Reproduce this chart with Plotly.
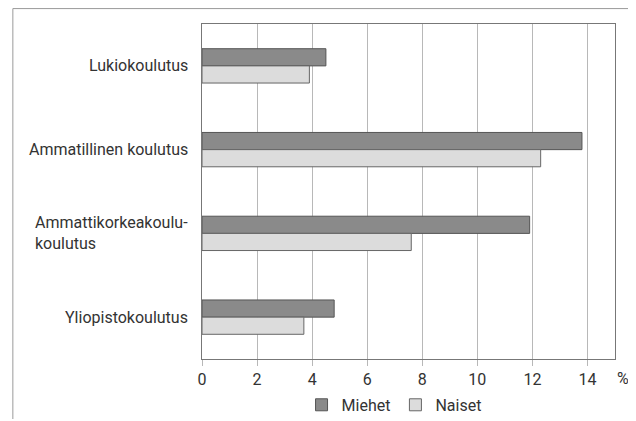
import plotly.graph_objects as go

categories = ["Lukiokoulutus", "Ammatillinen koulutus",
              "Ammattikorkeakoulu-<br>koulutus", "Yliopistokoulutus"]
miehet = [4.5, 13.8, 11.9, 4.8]
naiset = [3.9, 12.3, 7.6, 3.7]
x_ticks = [0, 2, 4, 6, 8, 10, 12, 14]

FONT = "Roboto, sans-serif"
TEXT = "#333333"

fig = go.Figure()
fig.add_trace(go.Bar(
    name="Miehet", y=categories, x=miehet, orientation="h",
    marker=dict(color="#8a8a8a", line=dict(color="#555555", width=1)),
))
fig.add_trace(go.Bar(
    name="Naiset", y=categories, x=naiset, orientation="h",
    marker=dict(color="#dcdcdc", line=dict(color="#666666", width=1)),
))

# category labels as annotations so the wrapped one stays left aligned
for cat in categories:
    fig.add_annotation(
        x=-0.029, xref="paper", y=cat, yref="y", text=cat,
        showarrow=False, xanchor="right", align="left",
        font=dict(family=FONT, size=16, color=TEXT),
    )

fig.add_annotation(
    x=1.019, xref="paper", y=-0.057, yref="paper", text="%",
    showarrow=False, xanchor="center", yanchor="middle",
    font=dict(family=FONT, size=16, color=TEXT),
)

# outer frame (top and left edges only)
fig.add_shape(type="line", xref="paper", yref="paper",
              x0=-0.458, x1=1.1, y0=1.046, y1=1.046,
              line=dict(color="#9a9a9a", width=1))
fig.add_shape(type="line", xref="paper", yref="paper",
              x0=-0.458, x1=-0.458, y0=1.046, y1=-0.3,
              line=dict(color="#9a9a9a", width=1))

fig.update_layout(
    width=626, height=411,
    margin=dict(l=194, r=19, t=16, b=60, autoexpand=False),
    paper_bgcolor="white", plot_bgcolor="white",
    font=dict(family=FONT, color=TEXT, size=16),
    barmode="group", bargap=0.59, bargroupgap=0,
    showlegend=True,
    legend=dict(
        orientation="h", x=0.465, xanchor="center", y=-0.137, yanchor="middle",
        font=dict(family=FONT, size=16, color=TEXT),
        itemwidth=30, tracegroupgap=0, bgcolor="rgba(0,0,0,0)",
    ),
    xaxis=dict(
        range=[0, 15], tickvals=x_ticks, showgrid=True,
        gridcolor="#b8b8b8", gridwidth=1,
        ticks="outside", ticklen=6, tickcolor="#b8b8b8",
        showline=True, linecolor="#777777", linewidth=1, mirror=True,
        zeroline=False, tickfont=dict(family=FONT, size=16, color=TEXT),
    ),
    yaxis=dict(
        categoryorder="array", categoryarray=categories,
        autorange="reversed", showticklabels=False, showgrid=False,
        showline=True, linecolor="#777777", linewidth=1, mirror=True,
    ),
)

fig.write_html("out.html")
